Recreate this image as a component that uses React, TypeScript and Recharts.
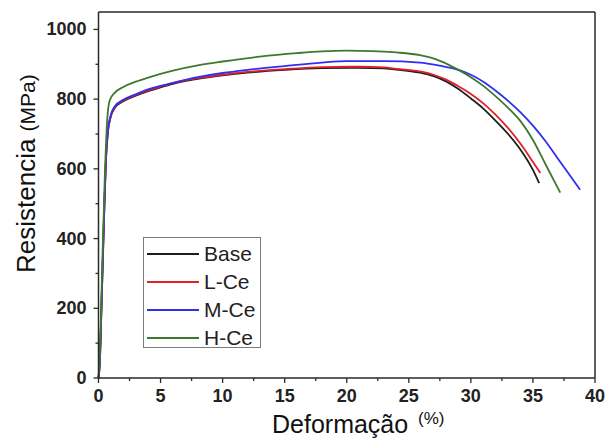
import React from "react";
import {
  LineChart,
  Line,
  XAxis,
  YAxis,
  ReferenceLine,
  Legend,
} from "recharts";

// tensile curves
const baseStrain = [0, 0.1, 0.25, 0.45, 0.6, 0.75, 0.95, 1.3, 2, 3, 4, 5, 6, 8, 10, 12, 15, 18, 21, 23, 24, 25.9, 27, 28, 29, 30, 31, 32, 33, 34, 35, 35.5];
const baseStress = [0, 40, 220, 470, 630, 705, 745, 774, 794, 810, 823, 834, 844, 858, 868, 876, 884, 889, 890, 888, 885, 876, 866, 851, 829, 802, 773, 738, 700, 655, 597, 559];

const lceStrain = [0, 0.1, 0.25, 0.45, 0.6, 0.75, 0.95, 1.3, 2, 3, 4, 5, 6, 8, 10, 12, 15, 18, 21, 23, 24, 26, 27, 28, 29, 30, 31, 32, 33, 34, 35, 35.6];
const lceStress = [0, 40, 210, 460, 625, 702, 745, 776, 796, 812, 825, 836, 846, 860, 870, 878, 886, 892, 893, 891, 887, 879, 870, 856, 837, 815, 788, 755, 717, 672, 620, 588];

const mceStrain = [0, 0.1, 0.25, 0.45, 0.6, 0.75, 0.95, 1.3, 2, 3, 4, 5, 6, 8, 10, 12, 15, 18, 20, 23, 25.9, 27.5, 29, 30, 31, 32, 33, 34, 35, 36, 37, 38, 38.8];
const mceStress = [0, 40, 220, 470, 632, 708, 750, 779, 798, 814, 828, 838, 847, 863, 875, 884, 895, 905, 909, 909, 905, 896, 884, 870, 850, 824, 795, 762, 724, 680, 630, 580, 540];

const hceStrain = [0, 0.1, 0.3, 0.5, 0.7, 0.9, 1.3, 2, 3, 4, 6, 8, 10, 13, 16, 18, 20, 22, 24, 25.9, 27.5, 29, 30, 31, 32, 33, 34, 35, 36, 37.2];
const hceStress = [0, 60, 320, 570, 740, 796, 818, 835, 850, 862, 882, 897, 908, 922, 932, 937, 939, 938, 934, 926, 910, 884, 863, 838, 808, 775, 737, 683, 614, 532];

const xTicks = [0, 2.5, 5, 7.5, 10, 12.5, 15, 17.5, 20, 22.5, 25, 27.5, 30, 32.5, 35, 37.5, 40];
const yTicks = [0, 100, 200, 300, 400, 500, 600, 700, 800, 900, 1000];

const toPoints = (xs: number[], ys: number[]) => xs.map((x, i) => ({ x, y: ys[i] }));

const series = [
  { name: "Base", color: "#1e1e1e", data: toPoints(baseStrain, baseStress) },
  { name: "L-Ce", color: "#e41f26", data: toPoints(lceStrain, lceStress) },
  { name: "M-Ce", color: "#2f2ff2", data: toPoints(mceStrain, mceStress) },
  { name: "H-Ce", color: "#3d7a2c", data: toPoints(hceStrain, hceStress) },
];

const font = "'Liberation Sans', Arial, sans-serif";
const axisColor = "#2a2a2a";

const YTick = (props: any) => {
  const { x, y, payload } = props;
  const major = payload.value % 200 === 0;
  return (
    <g>
      <line x1={x} x2={x - (major ? 5 : 3)} y1={y} y2={y} stroke={axisColor} strokeWidth={1.3} />
      {major && (
        <text x={x - 12} y={y} dy={6} textAnchor="end" fontFamily={font} fontSize={18} fontWeight="bold" fill="#222">
          {payload.value}
        </text>
      )}
    </g>
  );
};

const XTick = (props: any) => {
  const { x, y, payload } = props;
  const major = payload.value % 5 === 0;
  return (
    <g>
      <line x1={x} x2={x} y1={y} y2={y + (major ? 5 : 3)} stroke={axisColor} strokeWidth={1.3} />
      {major && (
        <text x={x} y={y + 24} textAnchor="middle" fontFamily={font} fontSize={18} fontWeight="bold" fill="#222">
          {payload.value}
        </text>
      )}
    </g>
  );
};

const LegendBox = () => (
  <div
    style={{
      width: 118,
      height: 111,
      border: "1.5px solid #7a7a7a",
      background: "#fff",
      boxSizing: "border-box",
      paddingTop: 2,
    }}
  >
    {series.map((s) => (
      <div key={s.name} style={{ display: "flex", alignItems: "center", height: 28 }}>
        <div style={{ width: 52, height: 2, background: s.color, marginLeft: 3 }} />
        <span style={{ fontFamily: font, fontSize: 21, color: "#222", marginLeft: 5, lineHeight: "28px" }}>
          {s.name}
        </span>
      </div>
    ))}
  </div>
);

export default function App() {
  return (
    <div style={{ position: "absolute", left: 0, top: 0, background: "#fff" }}>
      <LineChart width={605} height={438} margin={{ top: 12, right: 10, left: 0, bottom: 0 }}>
        <XAxis
          dataKey="x"
          type="number"
          domain={[0, 40]}
          ticks={xTicks}
          interval={0}
          height={60}
          tickSize={0}
          tickMargin={0}
          tickLine={false}
          tick={<XTick />}
          axisLine={{ stroke: axisColor, strokeWidth: 1.5 }}
          label={{
            content: () => (
              <g fontFamily={font} fill="#111">
                <text x={272} y={433} fontSize={25}>Deformação</text>
                <text x={418} y={424} fontSize={17}>(%)</text>
              </g>
            ),
          }}
        />
        <YAxis
          dataKey="y"
          type="number"
          domain={[0, 1050]}
          ticks={yTicks}
          interval={0}
          width={98.5}
          tickSize={0}
          tickMargin={0}
          tickLine={false}
          tick={<YTick />}
          axisLine={{ stroke: axisColor, strokeWidth: 1.5 }}
          label={{
            content: () => (
              <text transform="translate(35, 273) rotate(-90)" fontFamily={font} fill="#111">
                <tspan fontSize={26}>Resistencia </tspan>
                <tspan fontSize={21}>(MPa)</tspan>
              </text>
            ),
          }}
        />
        <ReferenceLine y={1050} stroke={axisColor} strokeWidth={1.5} />
        <ReferenceLine x={40} stroke={axisColor} strokeWidth={1.5} />
        <Legend
          layout="vertical"
          align="center"
          verticalAlign="middle"
          content={<LegendBox />}
          wrapperStyle={{ position: "absolute", left: 143, top: 237, width: 118, height: 111 }}
        />
        {series.map((s) => (
          <Line
            key={s.name}
            data={s.data}
            dataKey="y"
            name={s.name}
            type="monotone"
            stroke={s.color}
            strokeWidth={1.8}
            dot={false}
            activeDot={false}
            isAnimationActive={false}
          />
        ))}
      </LineChart>
    </div>
  );
}
